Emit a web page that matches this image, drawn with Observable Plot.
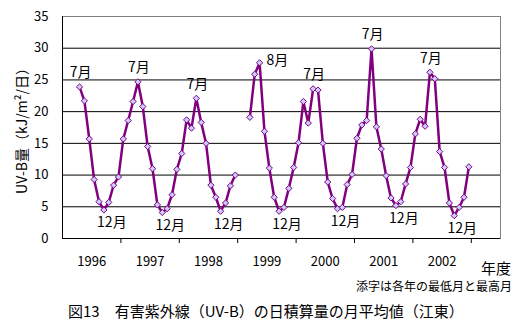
<!DOCTYPE html>
<html>
<head>
<meta charset="utf-8">
<script src="https://cdn.jsdelivr.net/npm/d3@7"></script>
<script src="https://cdn.jsdelivr.net/npm/@observablehq/plot@0.6"></script>
<style>
  html, body { margin: 0; padding: 0; background: #fff; }
  #wrap { position: relative; width: 519px; height: 334px; font-family: "Noto Sans CJK JP", sans-serif; color: #000; }
  #wrap svg { position: absolute; left: 0; top: 0; }
  .txt { position: absolute; white-space: nowrap; line-height: 1; }
  g[aria-label="y-axis label"] text { font-size: 14px; }
</style>
</head>
<body>
<div id="wrap"></div>
<script>
// Fiscal-year months (April..March)
const months = ["4月","5月","6月","7月","8月","9月","10月","11月","12月","1月","2月","3月"];
const years = ["1996","1997","1998","1999","2000","2001","2002"];
// Monthly mean of daily UV-B (kJ/m²/日), fiscal years
const fy1996 = [null, null, null, 23.9, 21.7, 15.7, 9.3, 5.8, 4.5, 5.7, 8.4, 9.7];
const fy1997 = [15.7, 18.6, 21.6, 24.7, 20.8, 14.5, 11.0, 5.3, 4.1, 4.7, 6.9, 10.9];
const fy1998 = [13.4, 18.7, 17.4, 22.1, 18.3, 15.0, 8.4, 6.5, 4.3, 5.6, 8.3, 10.0];
const fy1999 = [null, null, 19.1, 25.9, 27.7, 16.9, 11.1, 6.5, 4.3, 4.9, 7.9, 11.2];
const fy2000 = [15.1, 21.6, 18.2, 23.6, 23.4, 15.0, 8.9, 6.3, 4.7, 4.9, 8.5, 10.1];
const fy2001 = [15.8, 17.9, 18.6, 29.9, 17.6, 14.1, 9.9, 6.4, 5.2, 5.8, 8.6, 11.2];
const fy2002 = [16.5, 18.8, 17.7, 26.2, 25.2, 13.7, 11.2, 5.6, 3.6, 4.9, 6.5, 11.3];
const yTicks = [0, 5, 10, 15, 20, 25, 30, 35];
const yLabel = "UV-B量（kJ/m²/日）";
const xUnit = "年度";
const note = "添字は各年の最低月と最高月";
const title = "図13　有害紫外線（UV-B）の日積算量の月平均値（江東）";

const series = [fy1996, fy1997, fy1998, fy1999, fy2000, fy2001, fy2002];
const nSlots = 90; // category slots on the axis
const rows = series.flatMap((arr, k) => arr.map((v, m) => ({t: k * 12 + m + 0.5, v, fy: years[k], month: months[m]})));
const valid = rows.filter(d => d.v != null);
const peaks = years.map(y => d3.greatest(valid.filter(d => d.fy === y), d => d.v));
const lows = years.map(y => d3.least(valid.filter(d => d.fy === y), d => d.v));
const yearBounds = years.map((y, i) => (i + 1) * 12);
const yearCenters = years.map((y, i) => i * 12 + 6);

const chart = Plot.plot({
  width: 519,
  height: 270,
  marginTop: 16,
  marginBottom: 32,
  marginLeft: 62,
  marginRight: 19,
  style: {fontFamily: "'Noto Sans CJK JP', sans-serif", fontSize: "13px", background: "transparent", overflow: "visible"},
  x: {type: "linear", domain: [0, nSlots], label: null},
  y: {domain: [0, 35], label: null},
  marks: [
    Plot.gridY(yTicks.filter(t => t > 0 && t < 35), {stroke: "#000", strokeOpacity: 1}),
    Plot.frame({stroke: "#808080"}),
    Plot.ruleY([0], {stroke: "#000"}),
    Plot.ruleX([0], {stroke: "#000"}),
    Plot.axisY({ticks: yTicks, tickSize: 0, tickPadding: 14, fontSize: 13, label: yLabel, labelAnchor: "center", labelOffset: 45, labelArrow: "none"}),
    Plot.axisX({ticks: yearBounds, tickSize: 5, tickFormat: () => "", label: null, stroke: "#000"}),
    Plot.axisX({ticks: yearCenters, tickSize: 0, tickPadding: 18, fontSize: 13, tickFormat: (d, i) => years[i], label: null}),
    Plot.line(rows, {x: "t", y: "v", stroke: "#800080", strokeWidth: 2.5}),
    Plot.dot(valid, {x: "t", y: "v", symbol: "diamond2", r: 2.8, fill: "#CCCCFF", stroke: "#800080", strokeWidth: 1}),
    Plot.text(peaks.filter(d => d.month !== "8月"), {x: "t", y: "v", text: "month", dy: -14, dx: 1, fontSize: 14}),
    Plot.text(peaks.filter(d => d.month === "8月"), {x: "t", y: "v", text: "month", dy: -2, dx: 7, textAnchor: "start", fontSize: 14}),
    Plot.text(lows, {x: "t", y: "v", text: "month", dy: 13, dx: 8, fontSize: 14})
  ]
});

const wrap = document.getElementById("wrap");
wrap.appendChild(chart);
function addText(txt, css) {
  const d = document.createElement("div");
  d.className = "txt";
  d.textContent = txt;
  Object.assign(d.style, css);
  wrap.appendChild(d);
}
addText(xUnit, {right: "8px", top: "260px", fontSize: "15px"});
addText(note, {right: "7px", top: "280px", fontSize: "12px"});
addText(title, {left: "68px", top: "303px", fontSize: "15px"});
</script>
</body>
</html>
